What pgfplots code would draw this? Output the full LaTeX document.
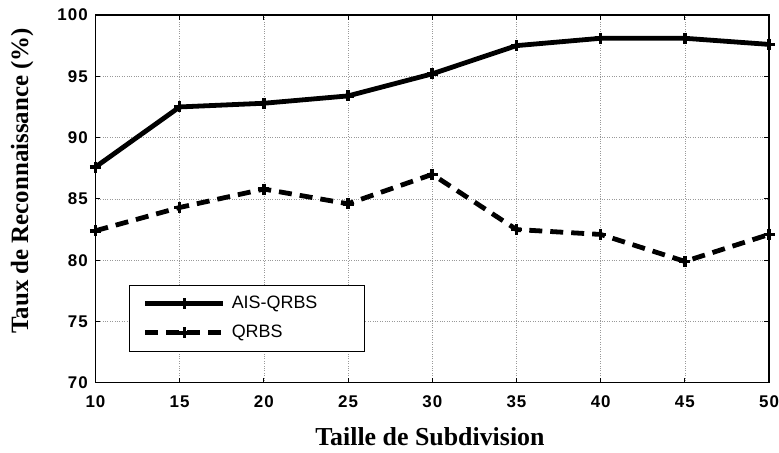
\documentclass[border=0pt]{standalone}
\usepackage{pgfplots}
\pgfplotsset{compat=1.18}
\usepackage{fontspec}
\setmainfont{Liberation Serif}
\setsansfont{Liberation Sans}
\newfontfamily\ticksans[LetterSpace=6]{Liberation Sans}

\begin{document}
\begin{tikzpicture}
\begin{axis}[
  scale only axis,
  width=674bp, height=368bp,
  xmin=10, xmax=50, ymin=70, ymax=100,
  xtick={10,15,...,50}, ytick={70,75,...,100},
  tick pos=both, tick align=inside,
  major tick length=5bp,
  axis line style={line width=1.2bp},
  tick style={line width=0.8bp, black},
  grid=major,
  major grid style={dotted, gray!80, line width=0.6bp},
  /pgf/number format/assume math mode=true,
  tick label style={font=\ticksans\bfseries\fontsize{17}{19}\selectfont, inner sep=0pt},
  xticklabel style={anchor=center, yshift=-19bp},
  yticklabel style={anchor=east, xshift=-7.5bp},
  xlabel={Taille de Subdivision},
  ylabel={Taux de Reconnaissance (\%)},
  xlabel style={font=\rmfamily\bfseries\fontsize{26}{28}\selectfont,
    at={(axis description cs:0.4965,-0.147)}, anchor=center},
  ylabel style={font=\rmfamily\bfseries\fontsize{25}{27}\selectfont,
    at={(axis description cs:-0.109,0.549)}, anchor=center},
  legend style={
    at={(0.05,0.266)}, anchor=north west,
    draw=black, line width=0.8bp,
    font=\sffamily\fontsize{18}{20}\selectfont,
    inner xsep=13.5bp, inner ysep=10bp,
    row sep=12bp, column sep=6bp,
    nodes={inner sep=0pt, text height=13bp, text depth=4bp,
      text width=119bp, align=left, anchor=west},
  },
  legend cell align=left,
  legend image code/.code={
    \draw[#1, mark repeat=2, mark phase=2]
      plot coordinates {(0bp,0bp) (39bp,0bp) (78bp,0bp)};
  },
]
\addplot[black, line width=4.8bp, mark=+, mark size=5.5bp,
  mark options={solid, line width=3.6bp}]
  coordinates {
  (10,87.6) (15,92.5) (20,92.8) (25,93.4) (30,95.2)
  (35,97.5) (40,98.1) (45,98.1) (50,97.6)
};
\addlegendentry{AIS-QRBS}
\addplot[black, line width=4.8bp, dash pattern=on 13bp off 8bp,
  mark=+, mark size=5.5bp, mark options={solid, line width=3.6bp}]
  coordinates {
  (10,82.4) (15,84.3) (20,85.8) (25,84.6) (30,87.0)
  (35,82.5) (40,82.1) (45,79.9) (50,82.1)
};
\addlegendentry{QRBS}
\end{axis}
\path ([shift={(-95.5bp,-70bp)}]current axis.south west)
  rectangle ([shift={(9.7bp,15bp)}]current axis.north east);
\end{tikzpicture}
\end{document}
